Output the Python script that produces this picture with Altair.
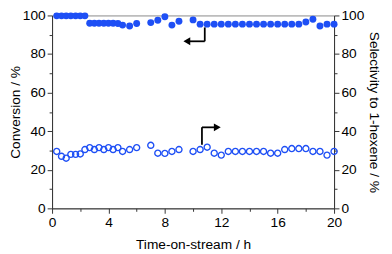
import altair as alt
import pandas as pd

# ---- data ----
time_h = [0.33, 0.67, 1.0, 1.33, 1.67, 2.0, 2.33, 2.67, 3.0, 3.33, 3.67, 4.0, 4.33, 4.67,
          5.0, 5.5, 6.0, 7.0, 7.5, 8.0, 8.5, 9.0,
          10.0, 10.5, 11.0, 11.5, 12.0, 12.5, 13.0, 13.5, 14.0, 14.5, 15.0, 15.5,
          16.0, 16.5, 17.0, 17.5, 18.0, 18.5, 19.0, 19.5, 20.0]
conversion = [99.8, 99.8, 99.8, 99.8, 99.8, 99.8, 99.8, 96.0, 96.0, 96.0, 96.0, 96.0, 96.0, 95.8,
              95.0, 94.5, 95.8, 96.3, 97.5, 99.3, 95.0, 97.0,
              97.7, 95.5, 95.5, 95.5, 95.5, 95.5, 95.5, 95.5, 95.5, 95.5, 95.5, 95.5,
              95.5, 95.5, 95.5, 95.5, 96.6, 98.0, 94.5, 95.5, 95.5]
selectivity = [29.5, 27.0, 26.0, 28.0, 28.0, 28.2, 30.5, 31.5, 30.5, 31.5, 30.5, 31.5, 30.5, 31.5,
               29.5, 30.5, 31.5, 32.7, 28.6, 28.5, 29.5, 30.5,
               29.5, 30.5, 31.7, 28.6, 27.6, 29.5, 29.5, 29.5, 29.5, 29.5, 29.5, 28.6,
               28.6, 30.5, 31.0, 31.0, 31.0, 29.5, 29.5, 27.6, 29.5]

# annotation arrows (data coordinates)
arrow_x = [10.83, 10.83, 10.63, 10.63]
arrow_x2 = [10.83, 9.75, 10.63, 11.5]
arrow_y = [93.8, 86.6, 33.0, 42.0]
arrow_y2 = [86.6, 86.6, 42.0, 42.0]
head_x = [9.56, 11.72]
head_y = [86.6, 42.0]
head_shape = ["triangle-left", "triangle-right"]

x_ticks = [0, 2, 4, 6, 8, 10, 12, 14, 16, 18, 20]
y_ticks = [0, 10, 20, 30, 40, 50, 60, 70, 80, 90, 100]

BLUE = "#1e4ff5"
AX = "#333333"
FONT = "Liberation Sans"

pts = pd.DataFrame({"t": time_h, "conv": conversion, "sel": selectivity})
arrows = pd.DataFrame({"x": arrow_x, "x2": arrow_x2, "y": arrow_y, "y2": arrow_y2})
heads = pd.DataFrame({"x": head_x, "y": head_y, "shape": head_shape})

common = dict(grid=False, domainColor=AX, tickColor=AX, domainWidth=1, tickWidth=1,
              labelFont=FONT, titleFont=FONT, labelFontSize=14, titleFontSize=14,
              labelColor="black", titleColor="black", titleFontWeight="normal",
              labelFlush=False)

x_axis = alt.Axis(values=x_ticks, title="Time-on-stream / h",
                  labelExpr="datum.value % 4 === 0 ? datum.label : ''",
                  tickSize={"condition": {"test": "datum.value % 4 === 0", "value": 5}, "value": 3},
                  labelPadding=3, titlePadding=8, **common)
x_scale = alt.Scale(domain=[0, 20], nice=False)
y_scale = alt.Scale(domain=[0, 100], nice=False)

y_left = alt.Axis(values=y_ticks, title="Conversion / %", orient="left",
                  labelExpr="datum.value % 20 === 0 ? datum.label : ''",
                  tickSize={"condition": {"test": "datum.value % 20 === 0", "value": 5}, "value": 3},
                  labelPadding=2, titlePadding=0, **common)
y_right = alt.Axis(values=y_ticks, title="Selectivity to 1-hexene / %", orient="right",
                   labelExpr="datum.value % 20 === 0 ? datum.label : ''",
                   tickSize={"condition": {"test": "datum.value % 20 === 0", "value": 5}, "value": 3},
                   labelPadding=2, titlePadding=3, **common)

X = alt.X("t:Q", scale=x_scale, axis=x_axis)

conv_pts = alt.Chart(pts).mark_circle(size=50, color=BLUE, opacity=1).encode(
    x=X, y=alt.Y("conv:Q", scale=y_scale, axis=y_left))

arrow_lines = alt.Chart(arrows).mark_rule(color="black", strokeWidth=1.8).encode(
    x=alt.X("x:Q", scale=x_scale, axis=x_axis), x2="x2:Q",
    y=alt.Y("y:Q", scale=y_scale, axis=y_left), y2="y2:Q")

arrow_heads = alt.Chart(heads).mark_point(filled=True, color="black", size=65, opacity=1).encode(
    x=alt.X("x:Q", scale=x_scale, axis=x_axis),
    y=alt.Y("y:Q", scale=y_scale, axis=y_left),
    shape=alt.Shape("shape:N", scale=None))

left = alt.layer(conv_pts, arrow_lines, arrow_heads)

sel_pts = alt.Chart(pts).mark_point(size=38, color=BLUE, filled=False, strokeWidth=1.4,
                                    opacity=1, shape="circle").encode(
    x=X, y=alt.Y("sel:Q", scale=y_scale, axis=y_right))

chart = alt.layer(left, sel_pts).resolve_scale(y="independent").properties(
    width=288, height=197,
    padding={"left": 45, "top": 5, "right": 51, "bottom": 44},
    autosize=alt.AutoSizeParams(type="none"),
    background="white",
).configure_view(stroke="#888888", strokeWidth=1)

chart.save("out.html", embed_options={"renderer": "svg", "actions": False})
